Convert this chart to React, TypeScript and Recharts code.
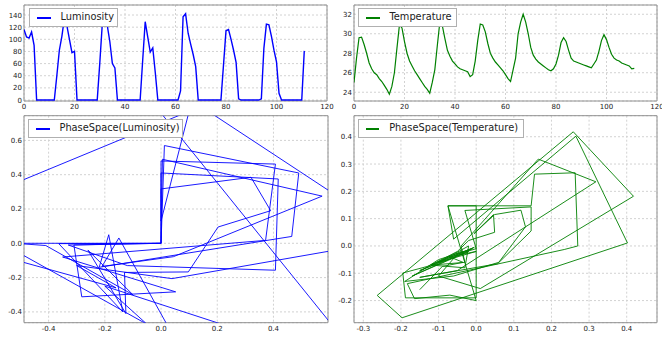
import React from 'react';
import { LineChart, Line, XAxis, YAxis, CartesianGrid, Legend, ReferenceArea } from 'recharts';

const FONT = '"DejaVu Sans", sans-serif';
const BLUE = '#0000ff';
const GREEN = '#008000';
const FRAME = '#909090';
const GRID = '#d2d2d2';

// luminosity readings, one per time step (0..111)
const luminosity = [
  116, 104, 102, 112, 90, 0, 0, 0, 0, 0,
  0, 0, 0, 40, 82, 105, 135, 122, 100, 78,
  80, 0, 0, 0, 0, 0, 0, 0, 0, 0,
  60, 125, 135, 122, 96, 60, 53, 0, 0, 0,
  0, 0, 0, 0, 0, 0, 0, 65, 129, 104,
  79, 86, 45, 0, 0, 0, 0, 0, 0, 0,
  0, 0, 15, 137, 142, 110, 92, 75, 55, 0,
  0, 0, 0, 0, 0, 0, 0, 0, 0, 57,
  114, 116, 100, 82, 62, 2, 0, 0, 0, 0,
  0, 0, 0, 0, 2, 85, 125, 124, 105, 82,
  63, 11, 0, 0, 0, 0, 0, 0, 0, 0,
  0, 81,
];

const temperature = [
  25.0, 27.5, 29.6, 29.65, 28.9, 28.0, 27.0, 26.4, 26.0, 25.8,
  25.4, 25.1, 24.7, 24.3, 23.8, 24.6, 26.0, 28.5, 30.9, 30.6,
  29.2, 28.0, 27.2, 26.7, 26.2, 25.8, 25.4, 25.0, 24.6, 24.3,
  23.9, 25.0, 26.3, 28.8, 31.2, 30.8, 29.5, 28.3, 27.7, 27.2,
  26.9, 26.6, 26.4, 26.3, 26.2, 26.1, 25.6, 25.8, 27.2, 29.3,
  31.0, 30.9, 30.2, 29.0, 28.0, 27.5, 27.1, 26.8, 26.5, 26.2,
  25.8, 25.4, 25.1, 26.3, 27.5, 30.0, 31.2, 32.0, 31.2, 30.0,
  28.6, 27.8, 27.4, 27.1, 26.9, 26.7, 26.5, 26.3, 26.2, 26.4,
  26.9, 27.8, 29.1, 29.6, 29.2, 28.3, 27.5, 27.2, 27.1, 27.0,
  26.9, 26.8, 26.7, 26.6, 26.5, 26.9, 27.3, 28.2, 29.3, 29.9,
  29.4, 28.6, 27.9, 27.5, 27.3, 27.2, 27.0, 26.9, 26.8, 26.7,
  26.4, 26.45,
];

// phase space trajectories, vertices in drawing order
const lumPhaseX = [
  -0.80, 0.10, 0.00, 0.00, 0.32, 0.39, 0.203, 0.097, -0.13, -0.125,
  -0.26, -0.10, -0.41, -0.52, 0.00, 0.012, 0.49, 0.465, -0.22, -0.186,
  -0.136, -0.364, 0.00, 0.00, 0.407, 0.372, -0.35, 0.052, -0.282, -0.31,
  0.00, 0.00, 0.417, 0.407, -0.12, -0.33, 0.00, 0.005, 0.573, 0.044,
  -0.21, -0.15, 0.03, 0.62, -0.02, 0.14, 0.65, 0.65, 0.039, -0.30,
  -0.16, -0.60, -0.55, -0.05, -0.20, 0.25,
];
const lumPhaseY = [
  0.16, 0.77, 0.13, 0.317, 0.385, 0.19, 0.095, -0.167, -0.17, -0.41,
  -0.04, -0.30, -0.013, 0.00, 0.00, 0.57, 0.41, 0.04, -0.14, 0.05,
  -0.40, -0.002, 0.00, 0.48, 0.462, 0.017, -0.08, -0.283, -0.312, -0.01,
  0.00, 0.41, 0.375, -0.157, -0.13, -0.01, 0.00, 0.49, 0.275, -0.078,
  -0.135, 0.031, -0.50, -0.50, 0.80, 0.80, 0.25, -0.031, -0.206, -0.13,
  -0.26, -0.061, -0.015, -0.472, -0.25, -0.49,
];

const tempPhaseX = [
  -0.04, -0.13, -0.195, -0.188, 0.0, 0.0, -0.075, 0.146, 0.155, 0.263,
  0.27, 0.234, -0.183, -0.164, -0.07, 0.0, -0.075, -0.06, 0.265, 0.402,
  -0.197, -0.263, 0.258, 0.418, 0.011, -0.10, -0.05, 0.0, -0.03, 0.146,
  0.146, 0.057, -0.15, -0.05, 0.318, 0.165, -0.04, -0.03, -0.12, -0.05,
  -0.02, 0.049, 0.046, -0.006, 0.049, 0.119, 0.131, 0.06, -0.06, -0.19,
  -0.10, -0.01, -0.17, -0.02, -0.15, -0.005, -0.12, -0.03, -0.02, -0.10,
  0.0, -0.07, -0.035, -0.09, -0.15,
];
const tempPhaseY = [
  -0.02, -0.075, -0.099, -0.19, -0.19, 0.147, 0.147, 0.147, 0.263, 0.268,
  0.0, -0.013, -0.138, -0.193, -0.18, -0.2, 0.147, 0.025, 0.402, 0.011,
  -0.263, -0.181, 0.418, 0.182, -0.156, -0.11, -0.03, -0.01, 0.13, 0.143,
  0.055, -0.065, -0.115, -0.09, 0.235, 0.318, 0.0, -0.06, -0.07, -0.02,
  0.02, 0.05, 0.115, 0.045, 0.115, 0.131, 0.07, -0.06, -0.11, -0.13,
  -0.05, -0.01, -0.11, -0.02, -0.09, -0.005, -0.07, -0.08, 0.0, -0.06,
  -0.02, -0.04, -0.06, -0.075, -0.16,
];

const lumData = luminosity.map((v, i) => ({ t: i, v }));
const tempData = temperature.map((v, i) => ({ t: i, v }));
const lumPhase = lumPhaseX.map((x, i) => ({ x, y: lumPhaseY[i] }));
const tempPhase = tempPhaseX.map((x, i) => ({ x, y: tempPhaseY[i] }));

const tickStyle = { fontSize: 7, fill: '#222', fontFamily: FONT };
const fmt1 = (v: number) => v.toFixed(1);

const legendBox = (label: string, color: string, width: number) => () => (
  <div
    style={{
      width,
      height: 18.5,
      boxSizing: 'border-box',
      border: '1px solid #b0b0b0',
      background: '#fff',
      position: 'relative',
      fontFamily: FONT,
      fontSize: 9.8,
    }}
  >
    <div style={{ position: 'absolute', left: 7, top: 8, width: 13.5, height: 1.5, background: color }} />
    <span style={{ position: 'absolute', left: 30.5, top: 2, color: '#222', whiteSpace: 'nowrap', lineHeight: '12px' }}>
      {label}
    </span>
  </div>
);

interface PanelProps {
  left: number;
  top: number;
  width: number;
  height: number;
  margin: { top: number; right: number; bottom: number; left: number };
  data: any[];
  xKey: string;
  yKey: string;
  xDomain: [number, number];
  yDomain: [number, number];
  xTicks: number[];
  yTicks: number[];
  xHeight: number;
  fmt?: (v: number) => string;
  color: string;
  strokeWidth: number;
  label: string;
  legendPos: { left: number; top: number };
  legendWidth: number;
}

const Panel: React.FC<PanelProps> = (p) => (
  <div style={{ position: 'absolute', left: p.left, top: p.top }}>
    <LineChart width={p.width} height={p.height} data={p.data} margin={p.margin}>
      <CartesianGrid stroke={GRID} strokeDasharray="2 2" />
      <XAxis
        dataKey={p.xKey}
        type="number"
        domain={p.xDomain}
        ticks={p.xTicks}
        interval={0}
        allowDataOverflow
        height={p.xHeight}
        axisLine={false}
        tickLine={false}
        tickSize={0}
        tickMargin={3}
        tick={tickStyle}
        tickFormatter={p.fmt}
      />
      <YAxis
        type="number"
        domain={p.yDomain}
        ticks={p.yTicks}
        interval={0}
        allowDataOverflow
        width={24}
        axisLine={false}
        tickLine={false}
        tickSize={0}
        tickMargin={2}
        tick={tickStyle}
        tickFormatter={p.fmt}
      />
      <Line
        type="linear"
        dataKey={p.yKey}
        name={p.label}
        stroke={p.color}
        strokeWidth={p.strokeWidth}
        dot={false}
        activeDot={false}
        isAnimationActive={false}
      />
      <ReferenceArea
        x1={p.xDomain[0]}
        x2={p.xDomain[1]}
        y1={p.yDomain[0]}
        y2={p.yDomain[1]}
        fill="none"
        stroke={FRAME}
        strokeWidth={1}
        ifOverflow="visible"
      />
      <Legend
        layout="horizontal"
        verticalAlign="middle"
        align="center"
        wrapperStyle={{ left: p.legendPos.left, top: p.legendPos.top, width: 'auto', height: 'auto' }}
        content={legendBox(p.label, p.color, p.legendWidth)}
      />
    </LineChart>
  </div>
);

const App: React.FC = () => (
  <div style={{ position: 'absolute', left: 0, top: 0, width: 662, height: 339, background: '#fff', overflow: 'hidden' }}>
    <Panel
      left={0}
      top={0}
      width={340}
      height={115}
      margin={{ top: 5, right: 13, bottom: 0, left: 0 }}
      data={lumData}
      xKey="t"
      yKey="v"
      xDomain={[0, 120]}
      yDomain={[-1.6, 156.5]}
      xTicks={[0, 20, 40, 60, 80, 100, 120]}
      yTicks={[0, 20, 40, 60, 80, 100, 120, 140]}
      xHeight={14}
      color={BLUE}
      strokeWidth={1.4}
      label="Luminosity"
      legendPos={{ left: 29, top: 8 }}
      legendWidth={89}
    />
    <Panel
      left={330}
      top={0}
      width={332}
      height={115}
      margin={{ top: 5, right: 5, bottom: 0, left: 0 }}
      data={tempData}
      xKey="t"
      yKey="v"
      xDomain={[0, 120]}
      yDomain={[23.1, 32.95]}
      xTicks={[0, 20, 40, 60, 80, 100, 120]}
      yTicks={[24, 26, 28, 30, 32]}
      xHeight={14}
      color={GREEN}
      strokeWidth={1.2}
      label="Temperature"
      legendPos={{ left: 28, top: 8 }}
      legendWidth={99}
    />
    <Panel
      left={0}
      top={110}
      width={340}
      height={229}
      margin={{ top: 5.7, right: 12, bottom: 0, left: 0 }}
      data={lumPhase}
      xKey="x"
      yKey="y"
      xDomain={[-0.4875, 0.594]}
      yDomain={[-0.463, 0.744]}
      xTicks={[-0.4, -0.2, 0, 0.2, 0.4]}
      yTicks={[-0.4, -0.2, 0, 0.2, 0.4, 0.6]}
      xHeight={16.3}
      fmt={fmt1}
      color={BLUE}
      strokeWidth={0.9}
      label="PhaseSpace(Luminosity)"
      legendPos={{ left: 28, top: 9 }}
      legendWidth={155}
    />
    <Panel
      left={330}
      top={110}
      width={332}
      height={229}
      margin={{ top: 5.7, right: 5, bottom: 0, left: 0 }}
      data={tempPhase}
      xKey="x"
      yKey="y"
      xDomain={[-0.3247, 0.4805]}
      yDomain={[-0.281, 0.477]}
      xTicks={[-0.3, -0.2, -0.1, 0, 0.1, 0.2, 0.3, 0.4]}
      yTicks={[-0.2, -0.1, 0, 0.1, 0.2, 0.3, 0.4]}
      xHeight={16.3}
      fmt={fmt1}
      color={GREEN}
      strokeWidth={0.9}
      label="PhaseSpace(Temperature)"
      legendPos={{ left: 27.7, top: 9 }}
      legendWidth={166}
    />
  </div>
);

export default App;
